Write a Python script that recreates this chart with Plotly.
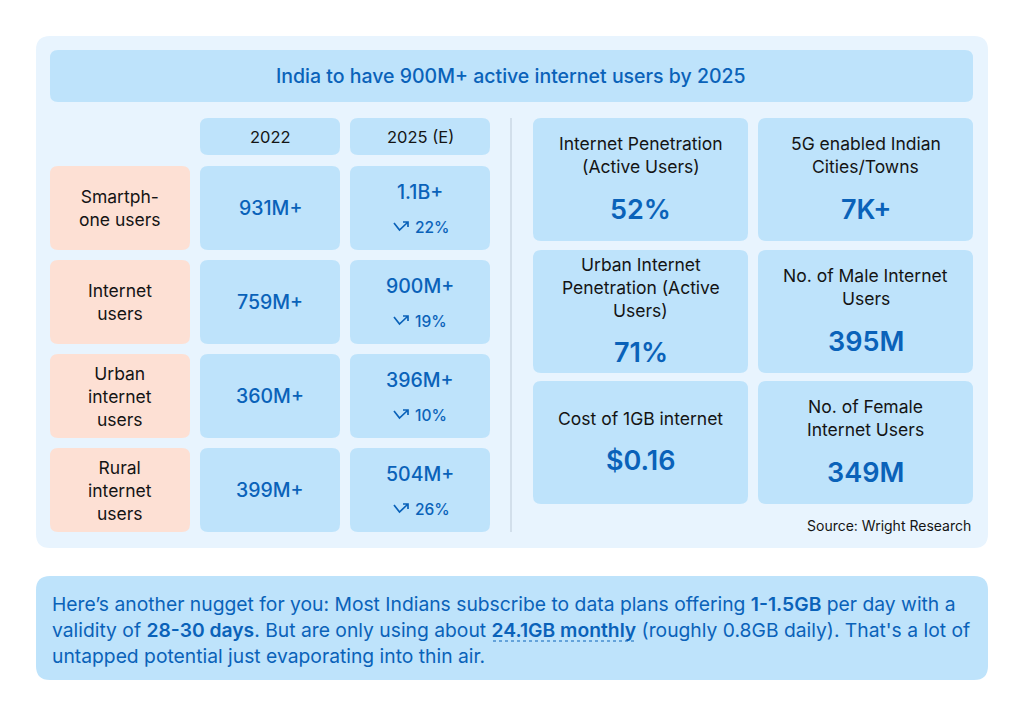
import plotly.graph_objects as go

# data
title = "India to have 900M+ active internet users by 2025"
years = ["2022", "2025 (E)"]
row_labels = ["Smartph-<br>one users", "Internet<br>users", "Urban<br>internet<br>users", "Rural<br>internet<br>users"]
users_2022 = ["931M+", "759M+", "360M+", "399M+"]
users_2025 = ["1.1B+", "900M+", "396M+", "504M+"]
growth = ["22%", "19%", "10%", "26%"]
card_titles = [
    ["Internet Penetration", "(Active Users)"],
    ["5G enabled Indian", "Cities/Towns"],
    ["Urban Internet", "Penetration (Active", "Users)"],
    ["No. of Male Internet", "Users"],
    ["Cost of 1GB internet"],
    ["No. of Female", "Internet Users"],
]
card_values = ["52%", "7K+", "71%", "395M", "$0.16", "349M"]
source = "Source: Wright Research"
note_lines = [
    "Here’s another nugget for you: Most Indians subscribe to data plans offering <b>1-1.5GB</b> per day with a",
    "validity of <b>28-30 days</b>. But are only using about <b>24.1GB monthly</b> (roughly 0.8GB daily). That's a lot of",
    "untapped potential just evaporating into thin air.",
]

FONT = "Inter, Roboto, sans-serif"
BLUE = "#0A62B9"
CELL = "#BEE3FB"
PEACH = "#FDE0D4"
PANEL = "#E8F4FE"
INK = "#141414"
OFF = 8  # page body margin


def rrect(x0, y0, x1, y1, r):
    return (f"M {x0+r},{y0} L {x1-r},{y0} Q {x1},{y0} {x1},{y0+r} "
            f"L {x1},{y1-r} Q {x1},{y1} {x1-r},{y1} L {x0+r},{y1} "
            f"Q {x0},{y1} {x0},{y1-r} L {x0},{y0+r} Q {x0},{y0} {x0+r},{y0} Z")


shapes = []
ann = []


def box(x0, y0, x1, y1, color, r=8):
    shapes.append(dict(type="path", path=rrect(x0, y0, x1, y1, r), xref="x", yref="y",
                       fillcolor=color, line=dict(width=0), layer="below"))


def text(x, y, s, size, color=INK, weight=400, xanchor="center"):
    ann.append(dict(x=x, y=y, xref="x", yref="y", text=s, showarrow=False,
                    xanchor=xanchor, yanchor="middle", align="center",
                    font=dict(family=FONT, size=size, color=color, weight=weight)))


# panel and title
box(36, 36, 988, 548, PANEL, 14)
box(50, 50, 973, 102, CELL, 8)
text(511, 76, title, 19.5, BLUE, 500)

# table
col_x = [200, 350]
col_w = 140
for i, yr in enumerate(years):
    box(col_x[i], 118, col_x[i] + col_w, 155, CELL)
    text(col_x[i] + col_w / 2, 136.5, yr, 16.5, INK)

row_top = [166, 260, 354, 448]
row_h = 84
for i, lab in enumerate(row_labels):
    y0 = row_top[i]
    cy = y0 + row_h / 2
    box(50, y0, 190, y0 + row_h, PEACH)
    text(120, cy, lab, 17.5, INK)
    box(col_x[0], y0, col_x[0] + col_w, y0 + row_h, CELL)
    text(col_x[0] + col_w / 2, cy, users_2022[i], 19.5, BLUE, 500)
    box(col_x[1], y0, col_x[1] + col_w, y0 + row_h, CELL)
    text(col_x[1] + col_w / 2, cy - 16, users_2025[i], 19.5, BLUE, 500)
    # trend icon
    ix, iy = 394, cy + 19
    shapes.append(dict(type="path", xref="x", yref="y",
                       path=f"M {ix},{iy-4} L {ix+5.5},{iy+3} L {ix+14},{iy-5} M {ix+9},{iy-5} L {ix+14},{iy-5} L {ix+14},{iy}",
                       line=dict(color=BLUE, width=1.7)))
    text(413, cy + 19, growth[i], 15.5, BLUE, 500, xanchor="left")

# divider
shapes.append(dict(type="line", xref="x", yref="y", x0=511, x1=511, y0=118, y1=532,
                   line=dict(color="#CBD9E4", width=1.5)))

# cards
card_x = [533, 758]
card_w = 215
card_rows = [(118, 241), (250, 373), (381, 504)]
for k, (ttl, val) in enumerate(zip(card_titles, card_values)):
    r, c = divmod(k, 2)
    y0, y1 = card_rows[r]
    x0 = card_x[c]
    box(x0, y0, x0 + card_w, y1, CELL)
    tc = y0 + 37
    n = len(ttl)
    for j, line in enumerate(ttl):
        text(x0 + card_w / 2, tc + (j - (n - 1) / 2) * 23, line, 17.5, INK)
    text(x0 + card_w / 2, tc + n * 11.5 + 31, val, 27, BLUE, 600)

text(973, 525, source, 14, INK, xanchor="right")

# note box
box(36, 576, 988, 680, CELL, 14)
for j, line in enumerate(note_lines):
    text(50, 604 + j * 26, line.replace("<b>", "<span style='font-weight:600'>").replace("</b>", "</span>"),
         19.3, BLUE, 400, xanchor="left")
shapes.append(dict(type="line", xref="x", yref="y", x0=493, x1=637, y0=641, y1=641,
                   line=dict(color=BLUE, width=1, dash="dot")))

fig = go.Figure()
fig.update_layout(
    width=1024, height=710,
    margin=dict(l=0, r=0, t=0, b=0),
    paper_bgcolor="white", plot_bgcolor="white",
    xaxis=dict(range=[OFF, 1024 + OFF], visible=False, fixedrange=True),
    yaxis=dict(range=[710 + OFF, OFF], visible=False, fixedrange=True),
    shapes=shapes, annotations=ann, showlegend=False,
)
fig.write_html("out.html")
